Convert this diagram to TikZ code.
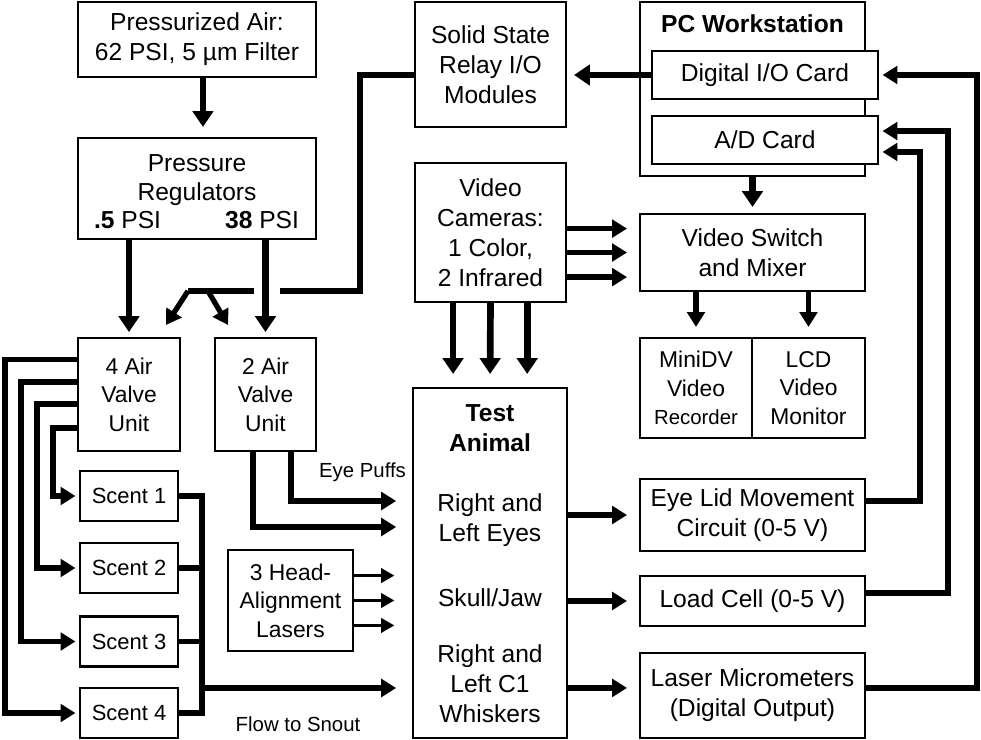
\documentclass[tikz,border=0pt]{standalone}
\usepackage{fontspec}
\setmainfont{Liberation Sans}
\usetikzlibrary{arrows.meta}

\tikzset{
  box/.style={draw, fill=white, line width=1.2pt, inner sep=0pt, align=center,
              font=\fontsize{14}{17}\selectfont},
  midtext/.style={font=\fontsize{13}{16.2}\selectfont},
  scenttext/.style={font=\fontsize{12.5}{15}\selectfont},
  smalltext/.style={font=\fontsize{11.6}{14}\selectfont},
  pipe/.style={line width=3pt},
  flow/.style={pipe, -{Triangle[length=8.5pt,width=10pt]}},
  feed/.style={line width=3.8pt, -{Triangle[length=9pt,width=11.5pt]}},
  beam/.style={line width=1.8pt, -{Triangle[length=7.5pt,width=8pt]}},
}

\begin{document}
\begin{tikzpicture}[x=0.02cm, y=-0.02cm]
  \useasboundingbox (0,0) rectangle (981,740);

  % air supply side
  \node[box, minimum width=4.76cm, minimum height=1.5cm] (air) at (197,39.5)
     {Pressurized Air:\\62 PSI, 5 µm Filter};
  \node[box, minimum width=4.76cm, minimum height=2.02cm] (reg) at (197,188.5) {};
  \node[align=center, font=\fontsize{14}{16.5}\selectfont] (regname) at (197,180) {Pressure\\Regulators};
  \node[font=\fontsize{14}{17}\selectfont] (lowpsi)  at (127.5,220) {\textbf{.5} PSI};
  \node[font=\fontsize{14}{17}\selectfont] (highpsi) at (262,220) {\textbf{38} PSI};

  \node[box, midtext, minimum width=2.04cm, minimum height=2.26cm] (valve4) at (129,394.5) {4 Air\\Valve\\Unit};
  \node[box, midtext, minimum width=2.02cm, minimum height=2.26cm] (valve2) at (265.5,394.5) {2 Air\\Valve\\Unit};

  \node[box, scenttext, minimum width=1.96cm, minimum height=1cm] (scent1) at (129,496) {Scent 1};
  \node[box, scenttext, minimum width=1.96cm, minimum height=1cm] (scent2) at (129,568) {Scent 2};
  \node[box, scenttext, minimum width=1.96cm, minimum height=1cm] (scent3) at (129,641.5) {Scent 3};
  \node[box, scenttext, minimum width=1.96cm, minimum height=1cm] (scent4) at (129,713) {Scent 4};

  \node[box, midtext, minimum width=2.5cm, minimum height=2.02cm] (lasers) at (290.5,600.5)
     {3 Head-\\Alignment\\Lasers};

  % middle column
  \node[box, minimum width=3.02cm, minimum height=2.5cm] (relay) at (490.5,64.5)
     {Solid State\\Relay I/O\\Modules};
  \node[box, minimum width=3.02cm, minimum height=2.78cm] (cams) at (490.5,232.5)
     {Video\\Cameras:\\1 Color,\\2 Infrared};
  \node[box, minimum width=3.08cm, minimum height=7cm] (animal) at (490,563) {};
  \node[align=center, font=\fontsize{14}{17}\selectfont\bfseries] (aniname) at (490,428) {Test\\Animal};
  \node[align=center, font=\fontsize{14}{17}\selectfont] (eyes)  at (490,520.5) {Right and\\Left Eyes};
  \node[align=center, font=\fontsize{14}{17}\selectfont] (skull) at (490,598) {Skull/Jaw};
  \node[align=center, font=\fontsize{14}{17}\selectfont] (whisk) at (490,684) {Right and\\Left C1\\Whiskers};

  % PC and recording side
  \node[box, minimum width=4.5cm, minimum height=3.49cm] (pc) at (752.5,89) {};
  \node[font=\fontsize{14}{17}\selectfont\bfseries] (pcname) at (752.5,24) {PC Workstation};
  \node[box, minimum width=4.52cm, minimum height=0.96cm] (dio) at (765,75) {Digital I/O Card};
  \node[box, minimum width=4.52cm, minimum height=0.96cm] (ad)  at (765,140) {A/D Card};
  \node[box, minimum width=4.5cm, minimum height=1.54cm] (switch) at (752.5,252.5)
     {Video Switch\\and Mixer};
  \node[box, midtext, minimum width=2.24cm, minimum height=2cm] (rec) at (696,388)
     {MiniDV\\Video\\{\fontsize{11.6}{14}\selectfont Recorder}};
  \node[box, midtext, minimum width=2.26cm, minimum height=2cm] (mon) at (808.5,388)
     {LCD\\Video\\Monitor};
  \node[box, minimum width=4.5cm, minimum height=1.44cm] (eyelid) at (752.5,515)
     {Eye Lid Movement\\Circuit (0-5 V)};
  \node[box, minimum width=4.5cm, minimum height=1cm] (load) at (752.5,601) {Load Cell (0-5 V)};
  \node[box, minimum width=4.5cm, minimum height=1.7cm] (micro) at (752.5,695.5)
     {Laser Micrometers\\(Digital Output)};

  % free ends and bends
  \coordinate (jog)    at (360,291);
  \coordinate (hopL)   at (254,291);   % gap where the 38 PSI line passes
  \coordinate (hopR)   at (280,291);
  \coordinate (split)  at (188,291);
  \coordinate (fork)   at (208,291);
  \coordinate (toV4)   at (166,325);
  \coordinate (toV2)   at (228,325);
  \coordinate (laneA)  at (53,0);
  \coordinate (laneB)  at (37,0);
  \coordinate (laneC)  at (21,0);
  \coordinate (laneD)  at (5,0);
  \coordinate (snout)  at (202,688);
  \coordinate (puffHi) at (291,501);
  \coordinate (puffLo) at (253,527);
  \coordinate (busE)   at (920,0);
  \coordinate (busL)   at (948,0);
  \coordinate (busM)   at (977,0);
  \coordinate (adHi)   at ([yshift=5.1pt]ad.east);
  \coordinate (adLo)   at ([yshift=-6.8pt]ad.east);

  % air path
  \draw[feed, shorten >=5.7pt] ([xshift=3.4pt]air.south) -- ([xshift=3.4pt]reg.north);
  \draw[feed, shorten >=2.8pt] (reg.south -| valve4) -- (valve4.north);
  \draw[feed, shorten >=2.8pt] (reg.south -| valve2) -- (valve2.north);

  % relay drive to the valves
  \draw[feed, shorten >=4pt] (dio.west) -- (dio.west -| relay.east);
  \draw[pipe] (relay.west |- dio) -| (jog) -- (hopR);
  \draw[pipe] (hopL) -- (split);
  \draw[flow] (split) -- (toV4);
  \draw[flow] (fork) -- (toV2);

  % scent lines
  \draw[flow, shorten >=2pt] ([yshift=-19pt]valve4.west)  -| (laneA |- scent1) -- (scent1.west);
  \draw[flow, shorten >=2pt] ([yshift=-5.4pt]valve4.west) -| (laneB |- scent2) -- (scent2.west);
  \draw[flow, shorten >=2pt] ([yshift=7.1pt]valve4.west)  -| (laneC |- scent3) -- (scent3.west);
  \draw[flow, shorten >=2pt] ([yshift=20.1pt]valve4.west) -| (laneD |- scent4) -- (scent4.west);
  \draw[pipe] (scent1.east) -| (snout |- scent4) -- (scent4.east);
  \draw[pipe] (scent2.east) -- (scent2 -| snout);
  \draw[pipe] (scent3.east) -- (scent3 -| snout);
  \draw[flow, shorten >=9pt] (snout) -- (snout -| animal.west);
  \node[smalltext] (snoutlbl) at (298,724.5) {Flow to Snout};

  % eye puffs
  \draw[flow, shorten >=9pt] (valve2.south -| puffHi) |- (puffHi -| animal.west);
  \draw[flow, shorten >=9pt] (valve2.south -| puffLo) |- (puffLo -| animal.west);
  \node[smalltext] (pufflbl) at (362.5,472.5) {Eye Puffs};

  % alignment lasers
  \draw[beam, shorten >=10pt] ([yshift=14.2pt]lasers.east) -- ([yshift=14.2pt]lasers.east -| animal.west);
  \draw[beam, shorten >=10pt] (lasers.east) -- (lasers.east -| animal.west);
  \draw[beam, shorten >=10pt] ([yshift=-14.2pt]lasers.east) -- ([yshift=-14.2pt]lasers.east -| animal.west);

  % video
  \draw[feed, shorten >=7.4pt] ([xshift=-21.3pt]cams.south) -- ([xshift=-21.3pt]cams.south |- animal.north);
  \draw[feed, shorten >=7.4pt] (cams.south) -- (animal.north);
  \draw[feed, shorten >=7.4pt] ([xshift=20.9pt]cams.south) -- ([xshift=20.9pt]cams.south |- animal.north);
  \draw[flow, shorten >=6.8pt] ([yshift=13.6pt]switch.west -| cams.east) -- ([yshift=13.6pt]switch.west);
  \draw[flow, shorten >=6.8pt] (switch.west -| cams.east) -- (switch.west);
  \draw[flow, shorten >=6.8pt] ([yshift=-14pt]switch.west -| cams.east) -- ([yshift=-14pt]switch.west);
  \draw[feed, shorten >=3.4pt] (pc.south) -- (switch.north);
  \draw[flow, shorten >=5.7pt] (switch.south -| rec) -- (rec.north);
  \draw[flow, shorten >=5.7pt] (switch.south -| mon) -- (mon.north);

  % sensors
  \draw[flow, shorten >=6.8pt] (eyelid -| animal.east) -- (eyelid.west);
  \draw[flow, shorten >=6.8pt] (load -| animal.east) -- (load.west);
  \draw[flow, shorten >=6.8pt] ([yshift=4.3pt]micro.west -| animal.east) -- ([yshift=4.3pt]micro.west);

  % signals back to the PC
  \draw[flow, shorten >=2pt] ([yshift=7.9pt]eyelid.east) -| (busE |- adLo) -- (adLo);
  \draw[flow, shorten >=2pt] ([yshift=4.5pt]load.east) -| (busL |- adHi) -- (adHi);
  \draw[flow, shorten >=2pt] ([yshift=4.3pt]micro.east) -| (busM |- dio) -- (dio.east);
\end{tikzpicture}
\end{document}
